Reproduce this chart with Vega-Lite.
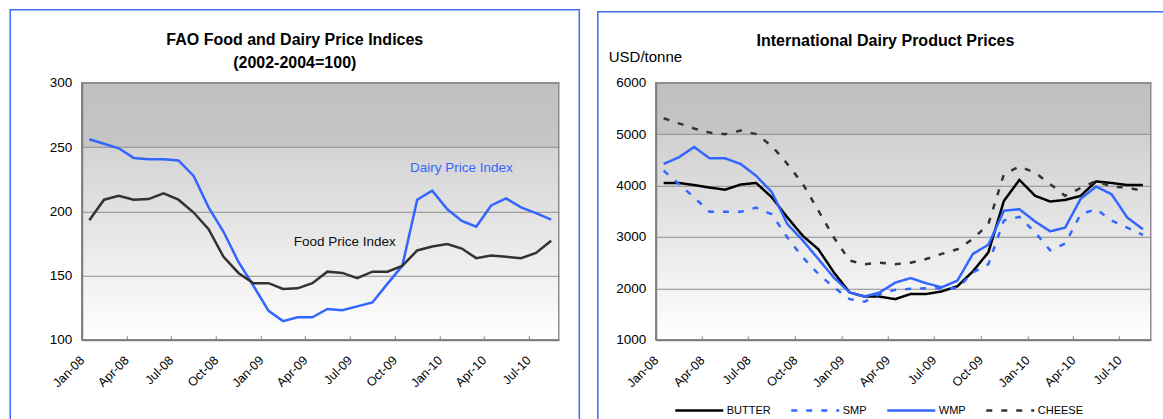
{
  "$schema": "https://vega.github.io/schema/vega-lite/v6.json",
  "background": "white",
  "padding": {"left": 7.75, "top": 7.75, "right": 0, "bottom": 0},
  "spacing": 14,
  "resolve": {"scale": {"color": "independent", "strokeDash": "independent"}, "legend": {"color": "independent", "strokeDash": "independent"}},
  "config": {
    "font": "Liberation Sans",
    "axis": {
      "labelFont": "Liberation Sans",
      "labelColor": "#000000",
      "domainColor": "#808080",
      "domainWidth": 2,
      "tickColor": "#808080",
      "tickWidth": 1,
      "gridColor": "#8c8c8c",
      "gridWidth": 1
    },
    "legend": {"labelFont": "Liberation Sans"}
  },
  "hconcat": [
    {
      "width": 477,
      "height": 257,
      "title": {
        "text": "FAO Food and Dairy Price Indices",
        "subtitle": "(2002-2004=100)",
        "font": "Liberation Sans",
        "fontSize": 16,
        "fontWeight": "bold",
        "color": "#000000",
        "subtitleFont": "Liberation Sans",
        "subtitleFontSize": 16,
        "subtitleFontWeight": "bold",
        "subtitleColor": "#000000",
        "subtitlePadding": 7,
        "anchor": "middle",
        "frame": "bounds",
        "offset": -62
      },
      "view": {
        "fill": {"gradient": "linear", "x1": 0, "y1": 0, "x2": 0, "y2": 1,
          "stops": [{"offset": 0, "color": "#c0c0c0"}, {"offset": 0.25, "color": "#c6c6c6"}, {"offset": 0.25, "color": "#d3d3d3"}, {"offset": 1, "color": "#ffffff"}]},
        "stroke": "#8c8c8c",
        "strokeWidth": 1.5
      },
      "data": {"values": [
        {"date": "2008-01-01", "Dairy": 256, "Food": 193},
        {"date": "2008-02-01", "Dairy": 252.5, "Food": 209},
        {"date": "2008-03-01", "Dairy": 249, "Food": 212},
        {"date": "2008-04-01", "Dairy": 241.5, "Food": 209},
        {"date": "2008-05-01", "Dairy": 240.5, "Food": 209.5},
        {"date": "2008-06-01", "Dairy": 240.5, "Food": 214},
        {"date": "2008-07-01", "Dairy": 239.5, "Food": 209},
        {"date": "2008-08-01", "Dairy": 227.5, "Food": 199},
        {"date": "2008-09-01", "Dairy": 203, "Food": 186},
        {"date": "2008-10-01", "Dairy": 184, "Food": 164.5},
        {"date": "2008-11-01", "Dairy": 160.5, "Food": 152},
        {"date": "2008-12-01", "Dairy": 142, "Food": 144},
        {"date": "2009-01-01", "Dairy": 122.5, "Food": 144},
        {"date": "2009-02-01", "Dairy": 114.5, "Food": 139.5},
        {"date": "2009-03-01", "Dairy": 117.5, "Food": 140},
        {"date": "2009-04-01", "Dairy": 117.5, "Food": 144},
        {"date": "2009-05-01", "Dairy": 124, "Food": 153},
        {"date": "2009-06-01", "Dairy": 123, "Food": 152},
        {"date": "2009-07-01", "Dairy": 126, "Food": 148},
        {"date": "2009-08-01", "Dairy": 129, "Food": 153},
        {"date": "2009-09-01", "Dairy": 143.5, "Food": 153},
        {"date": "2009-10-01", "Dairy": 157.5, "Food": 157.5},
        {"date": "2009-11-01", "Dairy": 209, "Food": 169.5},
        {"date": "2009-12-01", "Dairy": 216, "Food": 172.5},
        {"date": "2010-01-01", "Dairy": 201.5, "Food": 174.5},
        {"date": "2010-02-01", "Dairy": 192.5, "Food": 171},
        {"date": "2010-03-01", "Dairy": 188, "Food": 163.5},
        {"date": "2010-04-01", "Dairy": 204.5, "Food": 165.5},
        {"date": "2010-05-01", "Dairy": 210, "Food": 164.5},
        {"date": "2010-06-01", "Dairy": 203, "Food": 163.5},
        {"date": "2010-07-01", "Dairy": 198.5, "Food": 167.5},
        {"date": "2010-08-01", "Dairy": 193.5, "Food": 177}
      ]},
      "layer": [
        {
          "data": {"values": [{}]},
          "mark": {"type": "rect", "filled": false, "color": "#3d6cf5", "strokeWidth": 1.5, "clip": false},
          "encoding": {
            "x": {"datum": {"year": 2007, "month": 8, "date": 8, "utc": true}, "type": "temporal",
              "scale": {"type": "utc", "nice": false, "domain": [{"year": 2008, "month": 1, "date": 1, "utc": true}, {"year": 2010, "month": 9, "date": 1, "utc": true}]}},
            "x2": {"datum": {"year": 2010, "month": 10, "date": 13, "utc": true}},
            "y": {"datum": 356.8, "type": "quantitative", "scale": {"domain": [100, 300], "nice": false, "zero": false}},
            "y2": {"datum": 22}
          }
        },
        {
          "transform": [{"fold": ["Dairy", "Food"], "as": ["series", "value"]}],
          "mark": {"type": "line", "strokeWidth": 2.5},
          "encoding": {
            "x": {"field": "date", "timeUnit": "utcyearmonth", "type": "temporal", "bandPosition": 0.5,
              "scale": {"type": "utc", "nice": false, "domain": [{"year": 2008, "month": 1, "date": 1, "utc": true}, {"year": 2010, "month": 9, "date": 1, "utc": true}]},
              "axis": {"title": null, "format": "%b-%y", "tickCount": {"interval": "month", "step": 3}, "labelAngle": -45, "labelAlign": "right", "labelBaseline": "middle", "labelFontSize": 12.5, "labelPadding": 22, "tickSize": -4, "grid": false, "labelOverlap": false, "labelFlush": false}},
            "y": {"field": "value", "type": "quantitative",
              "scale": {"domain": [100, 300], "nice": false, "zero": false},
              "axis": {"title": null, "values": [100, 150, 200, 250, 300], "ticks": false, "labelPadding": 10, "labelFontSize": 13.5, "grid": true}},
            "color": {"field": "series", "type": "nominal", "scale": {"domain": ["Dairy", "Food"], "range": ["#3366ff", "#333333"]}, "legend": null}
          }
        },
        {
          "data": {"values": [{}]},
          "mark": {"type": "text", "color": "#3366ff", "fontSize": 13.5, "font": "Liberation Sans"},
          "encoding": {
            "x": {"datum": {"year": 2010, "month": 2, "date": 14, "utc": true}, "type": "temporal",
              "scale": {"type": "utc", "nice": false, "domain": [{"year": 2008, "month": 1, "date": 1, "utc": true}, {"year": 2010, "month": 9, "date": 1, "utc": true}]}},
            "y": {"datum": 234, "type": "quantitative", "scale": {"domain": [100, 300], "nice": false, "zero": false}},
            "text": {"value": "Dairy Price Index"}
          }
        },
        {
          "data": {"values": [{}]},
          "mark": {"type": "text", "color": "#111111", "fontSize": 13.5, "font": "Liberation Sans"},
          "encoding": {
            "x": {"datum": {"year": 2009, "month": 6, "date": 21, "utc": true}, "type": "temporal",
              "scale": {"type": "utc", "nice": false, "domain": [{"year": 2008, "month": 1, "date": 1, "utc": true}, {"year": 2010, "month": 9, "date": 1, "utc": true}]}},
            "y": {"datum": 176.3, "type": "quantitative", "scale": {"domain": [100, 300], "nice": false, "zero": false}},
            "text": {"value": "Food Price Index"}
          }
        }
      ]
    },
    {
      "width": 495,
      "height": 257,
      "title": {
        "text": "International Dairy Product Prices",
        "font": "Liberation Sans",
        "fontSize": 16,
        "fontWeight": "bold",
        "color": "#000000",
        "anchor": "middle",
        "frame": "bounds",
        "offset": -38
      },
      "view": {
        "fill": {"gradient": "linear", "x1": 0, "y1": 0, "x2": 0, "y2": 1,
          "stops": [{"offset": 0, "color": "#c0c0c0"}, {"offset": 0.2, "color": "#c5c5c5"}, {"offset": 0.2, "color": "#d0d0d0"}, {"offset": 1, "color": "#ffffff"}]},
        "stroke": "#8c8c8c",
        "strokeWidth": 1.5
      },
      "data": {"values": [
        {"date": "2008-01-01", "BUTTER": 4050, "SMP": 4290, "WMP": 4420, "CHEESE": 5310},
        {"date": "2008-02-01", "BUTTER": 4050, "SMP": 4030, "WMP": 4550, "CHEESE": 5210},
        {"date": "2008-03-01", "BUTTER": 4010, "SMP": 3770, "WMP": 4750, "CHEESE": 5110},
        {"date": "2008-04-01", "BUTTER": 3960, "SMP": 3490, "WMP": 4530, "CHEESE": 5030},
        {"date": "2008-05-01", "BUTTER": 3920, "SMP": 3490, "WMP": 4530, "CHEESE": 5000},
        {"date": "2008-06-01", "BUTTER": 4020, "SMP": 3490, "WMP": 4420, "CHEESE": 5070},
        {"date": "2008-07-01", "BUTTER": 4050, "SMP": 3570, "WMP": 4190, "CHEESE": 5000},
        {"date": "2008-08-01", "BUTTER": 3770, "SMP": 3440, "WMP": 3870, "CHEESE": 4770},
        {"date": "2008-09-01", "BUTTER": 3380, "SMP": 2990, "WMP": 3250, "CHEESE": 4420},
        {"date": "2008-10-01", "BUTTER": 3020, "SMP": 2600, "WMP": 2930, "CHEESE": 4030},
        {"date": "2008-11-01", "BUTTER": 2760, "SMP": 2280, "WMP": 2570, "CHEESE": 3510},
        {"date": "2008-12-01", "BUTTER": 2310, "SMP": 2020, "WMP": 2210, "CHEESE": 2990},
        {"date": "2009-01-01", "BUTTER": 1920, "SMP": 1790, "WMP": 1920, "CHEESE": 2540},
        {"date": "2009-02-01", "BUTTER": 1840, "SMP": 1740, "WMP": 1840, "CHEESE": 2470},
        {"date": "2009-03-01", "BUTTER": 1840, "SMP": 1890, "WMP": 1920, "CHEESE": 2500},
        {"date": "2009-04-01", "BUTTER": 1790, "SMP": 1970, "WMP": 2110, "CHEESE": 2470},
        {"date": "2009-05-01", "BUTTER": 1890, "SMP": 1990, "WMP": 2200, "CHEESE": 2500},
        {"date": "2009-06-01", "BUTTER": 1890, "SMP": 2000, "WMP": 2100, "CHEESE": 2570},
        {"date": "2009-07-01", "BUTTER": 1940, "SMP": 2000, "WMP": 2020, "CHEESE": 2670},
        {"date": "2009-08-01", "BUTTER": 2040, "SMP": 2000, "WMP": 2150, "CHEESE": 2760},
        {"date": "2009-09-01", "BUTTER": 2330, "SMP": 2310, "WMP": 2670, "CHEESE": 2960},
        {"date": "2009-10-01", "BUTTER": 2700, "SMP": 2470, "WMP": 2850, "CHEESE": 3250},
        {"date": "2009-11-01", "BUTTER": 3700, "SMP": 3320, "WMP": 3510, "CHEESE": 4220},
        {"date": "2009-12-01", "BUTTER": 4110, "SMP": 3390, "WMP": 3540, "CHEESE": 4370},
        {"date": "2010-01-01", "BUTTER": 3800, "SMP": 3090, "WMP": 3300, "CHEESE": 4250},
        {"date": "2010-02-01", "BUTTER": 3690, "SMP": 2740, "WMP": 3110, "CHEESE": 4030},
        {"date": "2010-03-01", "BUTTER": 3720, "SMP": 2870, "WMP": 3180, "CHEESE": 3800},
        {"date": "2010-04-01", "BUTTER": 3800, "SMP": 3440, "WMP": 3740, "CHEESE": 3950},
        {"date": "2010-05-01", "BUTTER": 4080, "SMP": 3540, "WMP": 3980, "CHEESE": 4090},
        {"date": "2010-06-01", "BUTTER": 4050, "SMP": 3320, "WMP": 3830, "CHEESE": 3980},
        {"date": "2010-07-01", "BUTTER": 4010, "SMP": 3180, "WMP": 3380, "CHEESE": 3960},
        {"date": "2010-08-01", "BUTTER": 4010, "SMP": 3040, "WMP": 3150, "CHEESE": 3900}
      ]},
      "layer": [
        {
          "data": {"values": [{}]},
          "mark": {"type": "rect", "filled": false, "color": "#3d6cf5", "strokeWidth": 1.5, "clip": false},
          "encoding": {
            "x": {"datum": {"year": 2007, "month": 9, "date": 9, "utc": true}, "type": "temporal",
              "scale": {"type": "utc", "nice": false, "domain": [{"year": 2008, "month": 1, "date": 1, "utc": true}, {"year": 2010, "month": 9, "date": 1, "utc": true}]}},
            "x2": {"datum": {"year": 2010, "month": 10, "date": 15, "utc": true}},
            "y": {"datum": 7381, "type": "quantitative", "scale": {"domain": [1000, 6000], "nice": false, "zero": false}},
            "y2": {"datum": -945}
          }
        },
        {
          "transform": [{"fold": ["BUTTER", "SMP", "WMP", "CHEESE"], "as": ["series", "value"]}],
          "mark": {"type": "line", "strokeWidth": 2.5, "strokeCap": "butt"},
          "encoding": {
            "x": {"field": "date", "timeUnit": "utcyearmonth", "type": "temporal", "bandPosition": 0.5,
              "scale": {"type": "utc", "nice": false, "domain": [{"year": 2008, "month": 1, "date": 1, "utc": true}, {"year": 2010, "month": 9, "date": 1, "utc": true}]},
              "axis": {"title": null, "format": "%b-%y", "tickCount": {"interval": "month", "step": 3}, "labelAngle": -45, "labelAlign": "right", "labelBaseline": "middle", "labelFontSize": 12.5, "labelPadding": 22, "tickSize": -4, "grid": false, "labelOverlap": false, "labelFlush": false}},
            "y": {"field": "value", "type": "quantitative",
              "scale": {"domain": [1000, 6000], "nice": false, "zero": false},
              "axis": {"title": "USD/tonne", "titleAngle": 0, "titleAlign": "left", "titleBaseline": "alphabetic", "titleX": -47.5, "titleY": -21.5, "titleFont": "Liberation Sans", "titleFontSize": 15, "titleFontWeight": "normal", "titleColor": "#000000",
                "values": [1000, 2000, 3000, 4000, 5000, 6000], "format": "d", "ticks": false, "labelPadding": 10, "labelFontSize": 13.5, "grid": true}},
            "color": {"field": "series", "type": "nominal",
              "scale": {"domain": ["BUTTER", "SMP", "WMP", "CHEESE"], "range": ["#000000", "#3366ff", "#3366ff", "#333333"]},
              "legend": {"orient": "none", "legendX": 18, "legendY": 302, "direction": "horizontal", "title": null, "symbolType": "stroke", "symbolSize": 2304, "symbolStrokeWidth": 2.5, "labelFontSize": 11, "labelColor": "#000000", "labelOffset": 2, "columnPadding": 15, "padding": 0}},
            "strokeDash": {"field": "series", "type": "nominal",
              "scale": {"domain": ["BUTTER", "SMP", "WMP", "CHEESE"], "range": [[1, 0], [6, 9], [1, 0], [6, 9]]}}
          }
        }
      ]
    }
  ]
}
